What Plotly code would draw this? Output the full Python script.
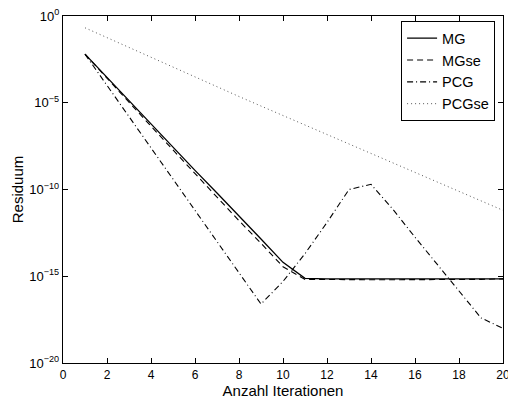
import plotly.graph_objects as go

# Residual history per iteration (log10 of the residual)
iterations = list(range(1, 21))

mg_log = [-2.2, -3.55, -4.9, -6.25, -7.6, -8.9, -10.2, -11.5, -12.85, -14.2,
          -15.12, -15.15, -15.15, -15.15, -15.15, -15.15, -15.15, -15.15, -15.15, -15.15]
mgse_log = [-2.2, -3.6, -4.98, -6.35, -7.72, -9.1, -10.45, -11.8, -13.1, -14.45,
            -15.18, -15.2, -15.2, -15.2, -15.2, -15.2, -15.2, -15.2, -15.18, -15.15]
pcg_log = [-2.2, -4.0, -5.8, -7.6, -9.4, -11.2, -13.0, -14.8, -16.6, -15.3,
           -13.7, -11.9, -10.0, -9.7, -11.15, -12.75, -14.3, -15.85, -17.4, -18.0]
pcgse_log = [-0.68, -1.25, -1.82, -2.39, -2.96, -3.52, -4.08, -4.64, -5.19, -5.74,
             -6.29, -6.84, -7.39, -7.94, -8.49, -9.04, -9.58, -10.12, -10.66, -11.2]

series_names = ["MG", "MGse", "PCG", "PCGse"]
series_values = [mg_log, mgse_log, pcg_log, pcgse_log]
series_dash = ["solid", "6px,4px", "6px,3px,1px,3px", "1px,3px"]
series_color = ["black", "black", "black", "#555555"]
series_width = [1.3, 1.1, 1.1, 1.0]

x_ticks = list(range(0, 21, 2))
y_tick_exps = [0, -5, -10, -15, -20]
y_tick_text = ["10<sup>%s</sup>" % (str(e).replace("-", "\u2212")) for e in y_tick_exps]

fig = go.Figure()
for name, vals, dash, col, w in zip(series_names, series_values, series_dash,
                                     series_color, series_width):
    fig.add_trace(go.Scatter(
        x=iterations,
        y=[10 ** v for v in vals],
        mode="lines",
        name=name,
        line=dict(color=col, dash=dash, width=w),
    ))

font_family = "Liberation Sans, Arial, sans-serif"

fig.update_layout(
    width=508,
    height=401,
    margin=dict(l=63, r=5, t=16, b=38),
    paper_bgcolor="white",
    plot_bgcolor="white",
    font=dict(family=font_family, color="black", size=12),
    showlegend=True,
    legend=dict(
        x=0.982, y=0.985, xanchor="right", yanchor="top",
        bgcolor="white", bordercolor="black", borderwidth=1,
        font=dict(size=14.5, family=font_family),
        tracegroupgap=0, itemwidth=30,
    ),
)

fig.update_xaxes(
    range=[0, 20],
    tickvals=x_ticks,
    ticktext=[str(t) for t in x_ticks],
    ticks="inside", ticklen=5, tickwidth=1, tickcolor="black",
    ticklabeloverflow="allow",
    showline=True, linecolor="black", linewidth=1.4, mirror="ticks",
    showgrid=False, zeroline=False,
    title=dict(text="Anzahl Iterationen", font=dict(size=15), standoff=0),
    automargin=False,
)
fig.update_yaxes(
    type="log",
    range=[-20, 0],
    tickvals=[10 ** e for e in y_tick_exps],
    ticktext=y_tick_text,
    tickfont=dict(size=13),
    ticks="inside", ticklen=5, tickwidth=1, tickcolor="black",
    showline=True, linecolor="black", linewidth=1.4, mirror="ticks",
    showgrid=False, zeroline=False,
    title=dict(text="Residuum", font=dict(size=15), standoff=2),
    automargin=False,
)

fig.write_html("out.html")
